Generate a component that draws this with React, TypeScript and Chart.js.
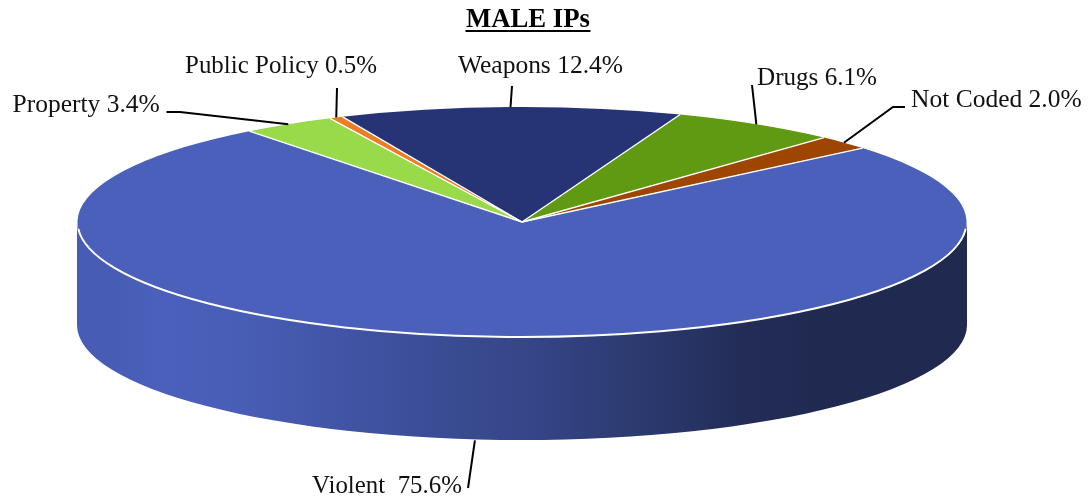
import React, { useEffect, useRef } from "react";
import { Chart, registerables } from "chart.js";

Chart.register(...registerables);

const categories = ["Weapons", "Drugs", "Not Coded", "Violent", "Property", "Public Policy"];
const shares = [12.4, 6.1, 2.0, 75.6, 3.4, 0.5];
const sliceColors = ["#263475", "#5f9a12", "#9e4500", "#4a60bb", "#98da4a", "#ed7d23"];
const chartTitle = "MALE IPs";

const ROTATION = -23.8;
const RADIUS = 444.5;
const SQUASH = 115 / 444.5;
const DEPTH = 103;
const FONT = '"Liberation Serif", serif';

// Text anchor, width and elbow for each callout, by category.
const callouts: Record<string, { tx: number; ty: number; w: number; path: number[][]; gap?: string }> = {
  Weapons: { tx: 458, ty: 73, w: 165, path: [[512, 86]] },
  Drugs: { tx: 757, ty: 85, w: 120, path: [[752, 85]] },
  "Not Coded": { tx: 911, ty: 107, w: 172, path: [[905, 107], [893, 107]] },
  Violent: { tx: 312, ty: 493, w: 150, path: [[468, 488]], gap: "  " },
  Property: { tx: 12.5, ty: 112, w: 148, path: [[166.5, 112], [180, 112]] },
  "Public Policy": { tx: 185, ty: 73, w: 192, path: [[337, 88]] },
};

// Brightness of the side wall along its width (position 0..1, factor on the slice colour).
const wallShade = [
  [0, 0.96], [0.04, 0.96], [0.09, 1.0], [0.17, 0.98], [0.3, 0.88], [0.45, 0.76],
  [0.5, 0.73], [0.63, 0.6], [0.75, 0.46], [0.85, 0.43], [1, 0.43],
];

function shade(hex: string, f: number) {
  const n = parseInt(hex.slice(1), 16);
  const c = [(n >> 16) & 255, (n >> 8) & 255, n & 255].map((v) => Math.round(v * f));
  return `rgb(${c[0]},${c[1]},${c[2]})`;
}

const pie3d = {
  id: "pie3d",
  beforeDatasetsDraw(chart: any) {
    const ctx = chart.ctx;
    const arcs = chart.getDatasetMeta(0).data;
    const { x: cx, y: cy, outerRadius: r } = arcs[0];
    arcs.forEach((arc: any, i: number) => {
      const a0 = Math.max(arc.startAngle, 0);
      const a1 = Math.min(arc.endAngle, Math.PI);
      if (a1 <= a0) return;
      const g = ctx.createLinearGradient(cx - r, 0, cx + r, 0);
      wallShade.forEach(([p, f]) => g.addColorStop(p, shade(sliceColors[i], f)));
      ctx.save();
      ctx.beginPath();
      ctx.ellipse(cx, cy, r + 0.5, r * SQUASH, 0, a0, a1);
      ctx.ellipse(cx, cy + DEPTH, r + 0.5, r * SQUASH, 0, a1, a0, true);
      ctx.closePath();
      ctx.fillStyle = g;
      ctx.fill();
      ctx.restore();
    });
    ctx.save();
    ctx.translate(cx, cy);
    ctx.scale(1, SQUASH);
    ctx.translate(-cx, -cy);
  },
  afterDatasetsDraw(chart: any) {
    const ctx = chart.ctx;
    ctx.restore();
    const arcs = chart.getDatasetMeta(0).data;
    const { x: cx, y: cy, outerRadius: r } = arcs[0];
    const ry = r * SQUASH;

    ctx.save();
    ctx.strokeStyle = "#ffffff";
    ctx.lineCap = "butt";
    // slice separators
    ctx.lineWidth = 1.4;
    arcs.forEach((arc: any) => {
      ctx.beginPath();
      ctx.moveTo(cx, cy);
      ctx.lineTo(cx + r * Math.cos(arc.startAngle), cy + ry * Math.sin(arc.startAngle));
      ctx.stroke();
    });
    // bright front rim
    ctx.lineWidth = 2;
    ctx.beginPath();
    ctx.ellipse(cx, cy, r, ry, 0, 0.06, Math.PI - 0.06);
    ctx.stroke();
    ctx.restore();

    // callouts
    ctx.save();
    ctx.strokeStyle = "#000000";
    ctx.fillStyle = "#111111";
    ctx.lineWidth = 2;
    ctx.font = `25.5px ${FONT}`;
    ctx.textBaseline = "alphabetic";
    ctx.textAlign = "left";
    arcs.forEach((arc: any, i: number) => {
      const name = categories[i];
      const c = callouts[name];
      const mid = (arc.startAngle + arc.endAngle) / 2;
      const sin = Math.sin(mid);
      const ax = cx + r * Math.cos(mid);
      const ay = cy + ry * sin + (sin > 0 ? DEPTH + 1 : 0);
      ctx.beginPath();
      ctx.moveTo(ax, ay);
      [...c.path].reverse().forEach(([x, y]) => ctx.lineTo(x, y));
      ctx.stroke();
      ctx.fillText(`${name}${c.gap ?? " "}${shares[i].toFixed(1)}%`, c.tx, c.ty, c.w);
    });
    // title
    ctx.font = `bold 27px ${FONT}`;
    ctx.textAlign = "center";
    ctx.fillStyle = "#000000";
    ctx.fillText(chartTitle, 528, 27, 124);
    ctx.fillRect(465.5, 30, 125, 2);
    ctx.restore();
  },
};

export default function App() {
  const ref = useRef<HTMLCanvasElement>(null);
  useEffect(() => {
    const chart = new Chart(ref.current!, {
      type: "pie",
      data: {
        labels: categories,
        datasets: [
          {
            data: shares,
            backgroundColor: sliceColors,
            borderWidth: 0,
            clip: false,
          } as any,
        ],
      },
      options: {
        responsive: false,
        animation: false,
        events: [],
        rotation: ROTATION,
        radius: RADIUS,
        layout: { padding: { left: 0, right: 44, top: 0, bottom: 57 } },
        plugins: { legend: { display: false }, tooltip: { enabled: false }, title: { display: false } },
      } as any,
      plugins: [pie3d],
    });
    return () => chart.destroy();
  }, []);
  return (
    <canvas
      ref={ref}
      width={1088}
      height={501}
      style={{ position: "absolute", left: 0, top: 0, display: "block", background: "#fff" }}
    />
  );
}
